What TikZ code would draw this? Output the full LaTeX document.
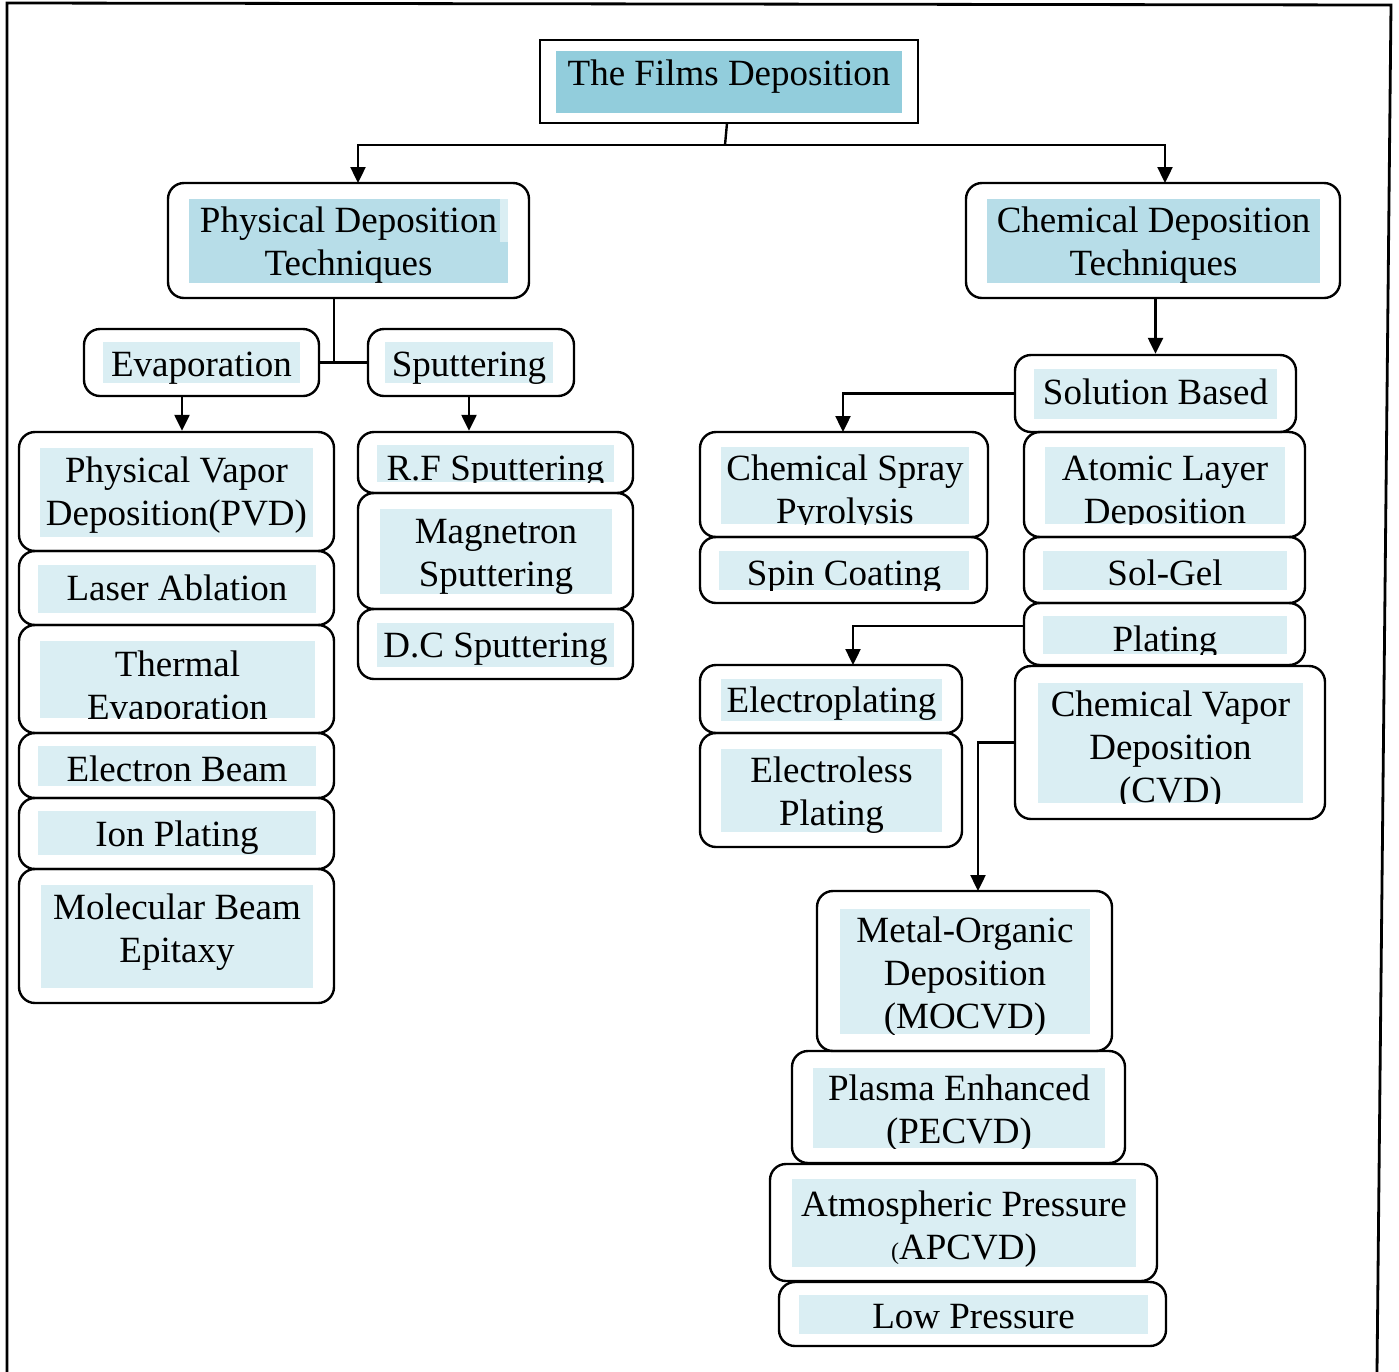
\documentclass[tikz,border=0pt]{standalone}
\usepackage{fontspec}
\setmainfont{Liberation Serif}
\usetikzlibrary{fit,arrows.meta}
\definecolor{cdark}{HTML}{92CDDC}
\definecolor{cmid}{HTML}{B7DDE8}
\definecolor{clight}{HTML}{DAEEF3}
\tikzset{
  obox/.style={draw=black, line width=1.2pt, rounded corners=8pt, inner sep=0pt},
  sbox/.style={draw=black, line width=1.2pt, inner sep=0pt},
  txt/.style={anchor=base, align=center, inner sep=0pt, font=\fontsize{18.5}{21.5}\selectfont},
  conn/.style={draw=black, line width=1.2pt},
  arr/.style={conn, -{Triangle[length=8pt,width=7.5pt]}},
  frameline/.style={draw=black, line width=1.4pt}
}
% #1 style, #2 name, #3-#6 outer box corners
\newcommand\obx[6][obox]{\node[#1, fit={(#3,#4)(#5,#6)}] (#2) {};}
% #1 name, #2-#5 fill corners, #6 colour, #7 baseline of last line, #8 text
\newcommand\ibx[8]{%
  \fill[#6] (#2,#3) rectangle (#4,#5);
  \begin{scope}
    \clip (#2-60,#3-60) rectangle (#4+60,#5);
    \node[txt] (#1) at ({(#2+#4)/2},#7) {#8};
  \end{scope}}
\begin{document}
\begin{tikzpicture}[x=0.5pt,y=-0.5pt]
\useasboundingbox (0,0) rectangle (1399,1372);
\fill[white] (0,0) rectangle (1399,1372);
% frame
\draw[frameline] (7,1372) -- (7,3) -- (1391,5) -- (1377,1372);

% top
\obx[sbox]{films}{540}{40}{918}{123}
\ibx{films-t}{556}{51}{902}{113}{cdark}{85}{The Films Deposition}

% physical / chemical
\obx{phys}{168}{183}{529}{298}
\fill[cmid] (189,199) rectangle (508,283);
\fill[clight] (500,199) rectangle (508,242);
\node[txt] (phys-t) at (348.5,275) {Physical Deposition\\Techniques};
\obx{chem}{966}{183}{1340}{298}
\ibx{chem-t}{987}{199}{1320}{283}{cmid}{275}{Chemical Deposition\\Techniques}

% evaporation / sputtering
\obx{evap}{84}{329}{319}{396}
\ibx{evap-t}{103}{342}{300}{383}{clight}{376}{Evaporation}
\obx{sput}{368}{329}{574}{396}
\ibx{sput-t}{385}{342}{553}{383}{clight}{376}{Sputtering}

% left column
\obx{pvd}{19}{432}{334}{551}
\ibx{pvd-t}{40}{448}{313}{537}{clight}{525}{Physical Vapor\\Deposition(PVD)}
\obx{laser}{19}{551}{334}{625}
\ibx{laser-t}{38}{565}{316}{613}{clight}{600}{Laser Ablation}
\obx{therm}{19}{625}{334}{733}
\ibx{therm-t}{40}{641}{315}{718}{clight}{719}{Thermal\\Evaporation}
\obx{ebeam}{19}{733}{334}{798}
\ibx{ebeam-t}{38}{746}{316}{786}{clight}{781}{Electron Beam}
\obx{ion}{19}{798}{334}{869}
\ibx{ion-t}{38}{811}{316}{855}{clight}{846}{Ion Plating}
\obx{mbe}{19}{869}{334}{1003}
\ibx{mbe-t}{41}{885}{313}{988}{clight}{962}{Molecular Beam\\Epitaxy}

% sputtering column
\obx{rf}{358}{432}{633}{493}
\ibx{rf-t}{377}{445}{614}{482}{clight}{480}{R.F Sputtering}
\obx{mag}{358}{493}{633}{609}
\ibx{mag-t}{380}{509}{612}{594}{clight}{586}{Magnetron\\Sputtering}
\obx{dc}{358}{609}{633}{679}
\ibx{dc-t}{377}{623}{614}{667}{clight}{657}{D.C Sputtering}

% chemical side
\obx{sol}{1015}{355}{1296}{432}
\ibx{sol-t}{1034}{369}{1277}{419}{clight}{404}{Solution Based}
\obx{spray}{700}{432}{988}{537}
\ibx{spray-t}{721}{447}{969}{524}{clight}{523}{Chemical Spray\\Pyrolysis}
\obx{spin}{700}{537}{987}{603}
\ibx{spin-t}{719}{551}{969}{590}{clight}{585}{Spin Coating}
\obx{ald}{1024}{432}{1305}{537}
\ibx{ald-t}{1045}{447}{1285}{524}{clight}{523}{Atomic Layer\\Deposition}
\obx{solgel}{1024}{537}{1305}{603}
\ibx{solgel-t}{1043}{551}{1287}{590}{clight}{585}{Sol-Gel}
\obx{plat}{1024}{603}{1305}{665}
\ibx{plat-t}{1043}{616}{1287}{654}{clight}{651}{Plating}
\obx{eplat}{700}{665}{962}{733}
\ibx{eplat-t}{721}{679}{942}{721}{clight}{712}{Electroplating}
\obx{eless}{700}{733}{962}{847}
\ibx{eless-t}{721}{749}{942}{832}{clight}{825}{Electroless\\Plating}
\obx{cvd}{1015}{666}{1325}{819}
\ibx{cvd-t}{1038}{683}{1303}{803}{clight}{802}{Chemical Vapor\\Deposition\\(CVD)}
\obx{mocvd}{817}{891}{1112}{1051}
\ibx{mocvd-t}{840}{909}{1090}{1034}{clight}{1028}{Metal-Organic\\Deposition\\(MOCVD)}
\obx{pecvd}{792}{1051}{1125}{1163}
\ibx{pecvd-t}{813}{1068}{1105}{1148}{clight}{1143}{Plasma Enhanced\\(PECVD)}
\obx{apcvd}{770}{1164}{1157}{1281}
\ibx{apcvd-t}{792}{1179}{1136}{1267}{clight}{1259}{Atmospheric Pressure\\{\fontsize{12}{14}\selectfont(}APCVD)}
\obx{low}{779}{1282}{1166}{1346}
\ibx{low-t}{799}{1295}{1148}{1334}{clight}{1328}{Low Pressure}

% connectors
\coordinate (jT) at (725,145);
\coordinate (pT) at (358,183);
\coordinate (cT) at (1165,183);
\draw[conn] (727,123) -- (jT);
\draw[arr] (jT) -| (pT);
\draw[arr] (jT) -| (cT);

\coordinate (pB) at (334,298);
\draw[conn] (pB) -- (pB |- evap.east);
\draw[conn] (evap.east) -- (sput.west);
\coordinate (eB) at (182,396);
\draw[arr] (eB) -- (eB |- pvd.north);
\coordinate (sB) at (469,396);
\draw[arr] (sB) -- (sB |- rf.north);

\draw[arr] (chem.south -| sol.north) -- (sol.north);
\coordinate (sprT) at (843,432);
\draw[arr] (sol.west) -| (sprT);
\coordinate (plW) at (1024,626);
\coordinate (epT) at (853,665);
\draw[arr] (plW) -| (epT);
\coordinate (moT) at (978,891);
\draw[arr] (cvd.west) -| (moT);
\end{tikzpicture}
\end{document}
